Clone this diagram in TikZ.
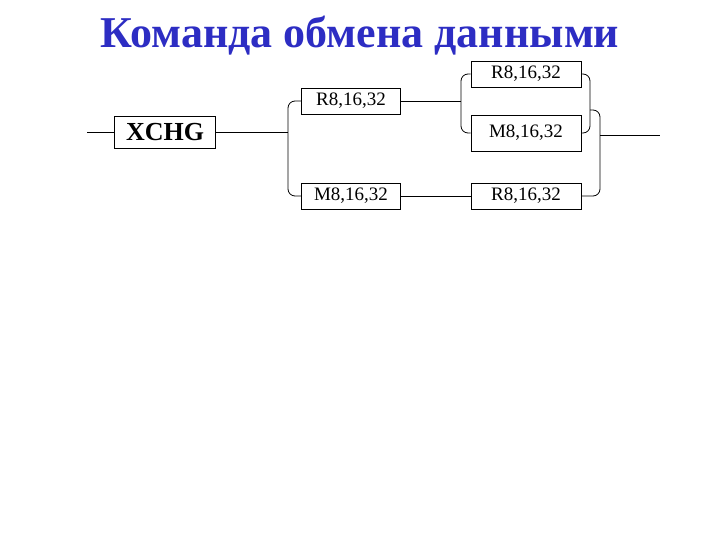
\documentclass[tikz,border=0pt]{standalone}
\usepackage{fontspec}
\setmainfont{Liberation Serif}
\begin{document}
\begin{tikzpicture}[x=1pt,y=-1pt,
  bx/.style={draw,line width=0.8pt,inner sep=0pt,minimum height=26pt,font=\fontsize{19}{19}\selectfont},
  ln/.style={line width=0.8pt,rounded corners=7pt}]
\useasboundingbox (0,0) rectangle (720,540);
\definecolor{tb}{RGB}{45,45,195}
\node[text=tb,font=\fontsize{44}{44}\selectfont\bfseries] (title) at (360,36) {Команда обмена данными};
\node[bx,minimum width=101pt,minimum height=32pt,font=\fontsize{26}{26}\selectfont\bfseries] (x) at (165,132) {XCHG};
\node[bx,minimum width=99pt] (r1) at (351,101) {R8,16,32};
\node[bx,minimum width=99pt] (m1) at (351,196) {M8,16,32};
\node[bx,minimum width=110pt] (r2) at (526,74) {R8,16,32};
\node[bx,minimum width=110pt,minimum height=36pt] (m2) at (526,133) {M8,16,32};
\node[bx,minimum width=110pt] (r3) at (526,196) {R8,16,32};
\coordinate (in) at (87,132);
\coordinate (out) at (660,135);
\draw[ln] (in) -- (x.west);
\draw[ln] (x.east) -- (288,132);
\draw[ln] (r1.west) -- (288,101) -- (288,196) -- (m1.west);
\draw[ln] (r1.east) -- (461,101);
\draw[ln] (r2.west) -- (461,74) -- (461,133) -- (m2.west);
\draw[ln] (m1.east) -- (r3.west);
\draw[ln] (r2.east) -- (590,74) -- (590,133) -- (m2.east);
\draw[ln] (590,110) -- (600,110) -- (600,196) -- (r3.east);
\draw[ln] (600,135) -- (out);
\end{tikzpicture}
\end{document}
